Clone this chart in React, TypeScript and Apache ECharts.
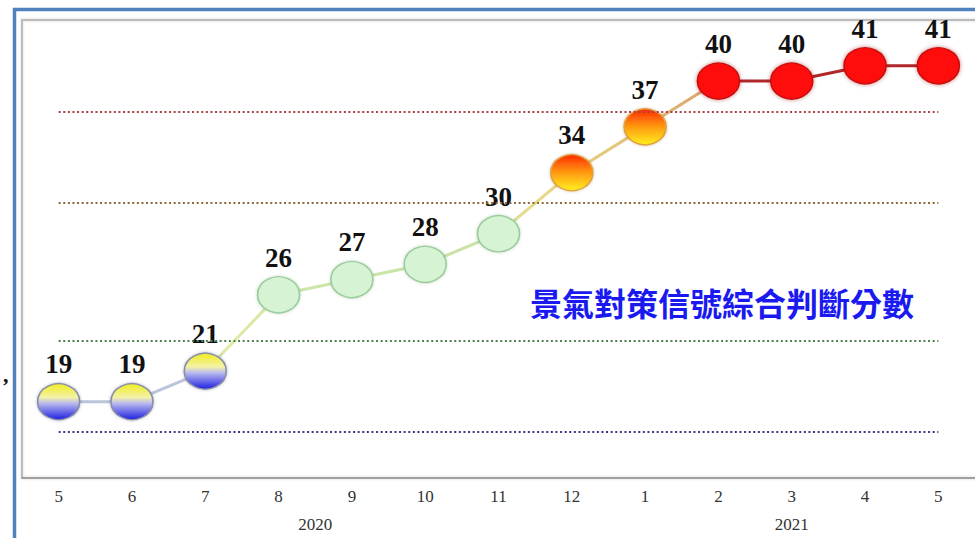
import React, { useEffect, useRef } from "react";
import * as echarts from "echarts";

const months = ["5", "6", "7", "8", "9", "10", "11", "12", "1", "2", "3", "4", "5"];
const scores = [19, 19, 21, 26, 27, 28, 30, 34, 37, 40, 40, 41, 41];
const yearLabels = ["2020", "2021"];
const yearSpans = [
  [0, 7],
  [8, 12],
];
const thresholds = [38, 32, 23, 17];
const thresholdColors = ["#a8404a", "#8a6a3a", "#4f7f4f", "#3a3a80"];
const titleText = "景氣對策信號綜合判斷分數";

function lightStyle(v: number) {
  if (v >= 38) {
    return {
      color: "#ff0a0a",
      borderColor: "#c81010",
      borderWidth: 1.5,
      shadowColor: "rgba(150,0,0,0.5)",
      shadowBlur: 4,
    };
  }
  if (v >= 32) {
    return {
      color: new echarts.graphic.LinearGradient(0, 0, 0, 1, [
        { offset: 0, color: "#ff2a00" },
        { offset: 0.5, color: "#ff9a10" },
        { offset: 1, color: "#fff020" },
      ]),
      borderColor: "#e0a040",
      borderWidth: 1.5,
      shadowColor: "rgba(120,80,0,0.35)",
      shadowBlur: 3,
    };
  }
  if (v >= 23) {
    return {
      color: "#d6f4d4",
      borderColor: "#9ccc9c",
      borderWidth: 1.5,
      shadowColor: "rgba(60,120,60,0.3)",
      shadowBlur: 3,
    };
  }
  return {
    color: new echarts.graphic.LinearGradient(0, 0, 0, 1, [
      { offset: 0, color: "#f0ec20" },
      { offset: 0.38, color: "#f4f2a8" },
      { offset: 0.55, color: "#b8b8f0" },
      { offset: 1, color: "#1e1ee0" },
    ]),
    borderColor: "#8890a8",
    borderWidth: 1.5,
    shadowColor: "rgba(60,60,100,0.35)",
    shadowBlur: 3,
  };
}

// segment colour stops, expressed in category index units
const segmentStops: [number, string][] = [
  [0, "#b8c2da"],
  [2, "#bcc6da"],
  [2.3, "#e2eca0"],
  [3, "#cfe6a8"],
  [6, "#c8e2a6"],
  [6.4, "#e6dc8c"],
  [7, "#e4d080"],
  [8, "#e0c078"],
  [8.9, "#dca070"],
  [9, "#b02828"],
  [12, "#b02828"],
];

export default function App() {
  const ref = useRef<HTMLDivElement>(null);
  useEffect(() => {
    if (!ref.current) return;
    const chart = echarts.init(ref.current, null, { renderer: "svg" });
    const n = scores.length - 1;
    chart.setOption({
      animation: false,
      grid: { left: 22, width: 959, top: 20, height: 458 },
      xAxis: {
        type: "category",
        data: months,
        boundaryGap: true,
        axisLine: { show: true, lineStyle: { color: "#a0a0a0", width: 2 } },
        axisTick: { show: false },
        axisLabel: {
          color: "#333",
          fontFamily: "Liberation Serif",
          fontSize: 17,
          margin: 10,
        },
        splitLine: { show: false },
      },
      yAxis: {
        type: "value",
        min: 14,
        max: 44,
        show: false,
        splitLine: { show: false },
      },
      series: [
        {
          id: "score",
          type: "line",
          data: scores.map((v) => ({ value: v, itemStyle: lightStyle(v) })),
          symbol: "circle",
          symbolSize: [42, 36],
          lineStyle: { width: 3, color: "#c8e2a6" },
          label: {
            show: true,
            position: "top",
            distance: 5,
            color: "#111",
            fontFamily: "Liberation Serif",
            fontWeight: "bold",
            fontSize: 27,
          },
          z: 3,
          markLine: {
            silent: true,
            symbol: "none",
            label: { show: false },
            data: thresholds.map((t, i) => [
              {
                coord: [0, t],
                lineStyle: { color: thresholdColors[i], width: 2, type: [2, 2.6] },
              },
              { coord: [n, t] },
            ]),
          },
        },
      ],
    });

    const px = (i: number) => chart.convertToPixel({ xAxisIndex: 0 }, i) as number;
    const x0 = px(0);
    const xn = px(n);
    const lineGradient = new echarts.graphic.LinearGradient(
      x0,
      0,
      xn,
      0,
      segmentStops.map(([i, c]) => ({ offset: i / n, color: c })),
      true
    );

    const yearTexts = yearSpans.map((span, i) => ({
      type: "text",
      x: (px(span[0]) + px(span[1])) / 2,
      y: 524,
      style: {
        text: yearLabels[i],
        fill: "#333",
        font: "17px 'Liberation Serif'",
        textAlign: "center",
        textVerticalAlign: "middle",
      },
    }));

    chart.setOption({
      series: [{ id: "score", lineStyle: { width: 3, color: lineGradient } }],
      graphic: [
        {
          type: "rect",
          shape: { x: 14.5, y: 9.5, width: 1000, height: 600 },
          style: { fill: "none", stroke: "#4f81bd", lineWidth: 3.5 },
          z: 0,
        },
        {
          type: "rect",
          shape: { x: 22, y: 20, width: 1000, height: 458 },
          style: {
            fill: "none",
            stroke: "#bcbcbc",
            lineWidth: 2,
            shadowColor: "rgba(0,0,0,0.15)",
            shadowBlur: 3,
          },
          z: 0,
        },
        {
          type: "text",
          x: 530,
          y: 302,
          style: {
            text: titleText,
            fill: "#1a1af0",
            font: "bold 32px 'Noto Sans CJK TC'",
            textAlign: "left",
            textVerticalAlign: "middle",
          },
          z: 5,
        },
        {
          type: "text",
          x: 3,
          y: 374,
          style: {
            text: ",",
            fill: "#111",
            font: "bold 22px 'Liberation Serif'",
            textAlign: "left",
            textVerticalAlign: "middle",
          },
        },
        ...yearTexts,
      ],
    });
    return () => chart.dispose();
  }, []);
  return (
    <div
      ref={ref}
      style={{ position: "fixed", left: 0, top: 0, width: 975, height: 538, background: "#fff" }}
    />
  );
}
